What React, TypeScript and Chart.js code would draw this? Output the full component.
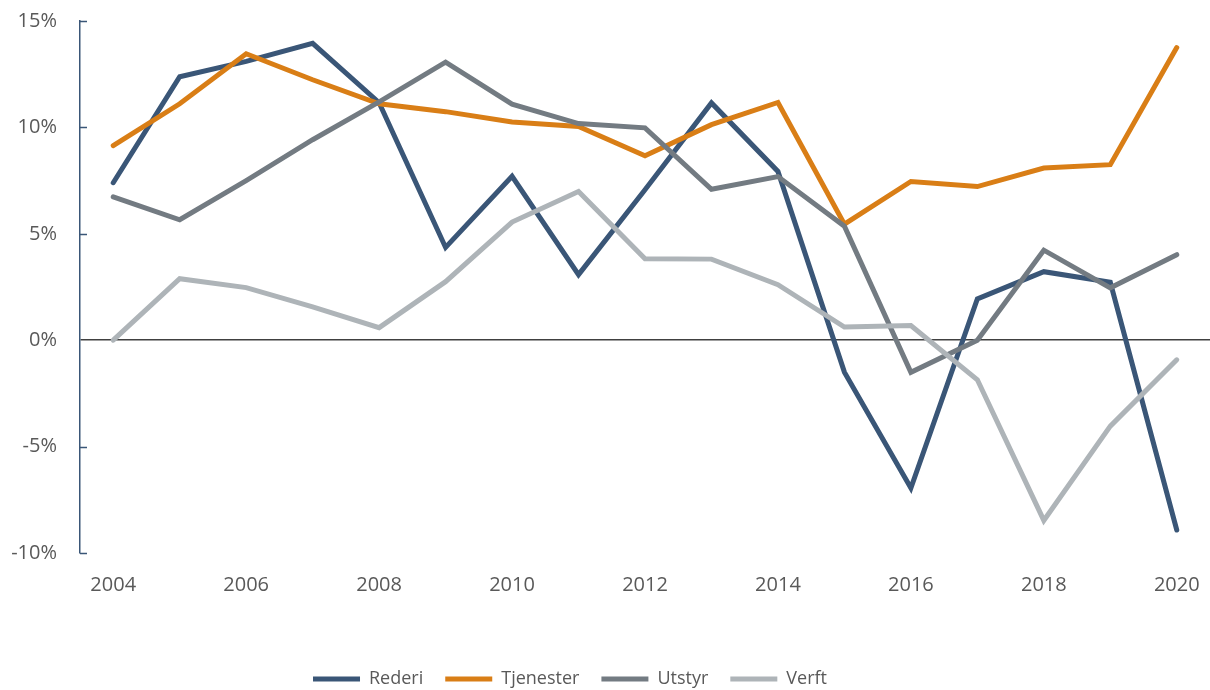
import { useEffect, useRef } from 'react';
import { Chart, registerables } from 'chart.js';

Chart.register(...registerables);

const years = ['2004', '2005', '2006', '2007', '2008', '2009', '2010', '2011', '2012', '2013', '2014', '2015', '2016', '2017', '2018', '2019', '2020'];
const rederi = [7.4, 12.38, 13.1, 13.95, 11.16, 4.36, 7.7, 3.08, 7.07, 11.15, 7.93, -1.5, -6.95, 1.94, 3.22, 2.72, -8.92];
const tjenester = [9.14, 11.11, 13.46, 12.24, 11.11, 10.74, 10.25, 10.04, 8.67, 10.13, 11.17, 5.45, 7.46, 7.22, 8.09, 8.25, 13.75];
const utstyr = [6.74, 5.66, 7.5, 9.42, 11.2, 13.07, 11.09, 10.18, 9.98, 7.09, 7.69, 5.36, -1.51, 0.0, 4.23, 2.46, 4.02];
const verft = [0.0, 2.89, 2.47, 1.57, 0.59, 2.75, 5.55, 6.99, 3.83, 3.81, 2.61, 0.62, 0.69, -1.86, -8.47, -4.04, -0.92];
const yTicks = [-10, -5, 0, 5, 10, 15];

const seriesNames = ['Rederi', 'Tjenester', 'Utstyr', 'Verft'];
const seriesColors = ['#3a5677', '#d97e16', '#737b82', '#aeb4b8'];
const seriesData = [rederi, tjenester, utstyr, verft];

export default function App() {
  const ref = useRef<HTMLCanvasElement>(null);

  useEffect(() => {
    document.body.style.margin = '0';
    if (!ref.current) return;

    const innerTicks = {
      id: 'innerTicks',
      afterLayout(chart: any) {
        if (chart.legend) {
          chart.legend.right -= 70;
        }
      },
      afterDraw(chart: any) {
        const { ctx, chartArea, scales } = chart;
        ctx.save();
        ctx.strokeStyle = '#3a5677';
        ctx.lineWidth = 1.5;
        yTicks.forEach((v) => {
          if (v === 0) return;
          const y = Math.round(scales.y.getPixelForValue(v)) + 0.5;
          ctx.beginPath();
          ctx.moveTo(chartArea.left, y);
          ctx.lineTo(chartArea.left + 7, y);
          ctx.stroke();
        });
        ctx.restore();
      },
    };

    const chart = new Chart(ref.current, {
      type: 'line',
      data: {
        labels: years,
        datasets: seriesNames.map((name, i) => ({
          label: name,
          data: seriesData[i],
          borderColor: seriesColors[i],
          backgroundColor: seriesColors[i],
          borderWidth: 5,
          borderCapStyle: 'round' as const,
          pointRadius: 0,
          tension: 0,
          fill: false,
          order: seriesNames.length - i,
        })),
      },
      options: {
        responsive: false,
        animation: false,
        layout: { padding: { top: 0, left: 0, right: 0, bottom: 0 } },
        plugins: {
          tooltip: { enabled: false },
          legend: {
            position: 'bottom',
            labels: {
              usePointStyle: true,
              pointStyle: 'line',
              pointStyleWidth: 47,
              padding: 22,
              color: '#595959',
              font: { family: 'Open Sans', size: 18 },
              sort: (a: any, b: any) => a.datasetIndex - b.datasetIndex,
            },
          },
        },
        scales: {
          x: {
            type: 'category',
            offset: true,
            grid: { display: false, drawTicks: false },
            border: { display: false },
            ticks: {
              autoSkip: false,
              maxRotation: 0,
              padding: 20,
              color: '#595959',
              font: { family: 'Open Sans', size: 20 },
              callback: (_v: any, i: number) => (i % 2 === 0 ? years[i] : ''),
            },
            afterFit: (s: any) => {
              s.height = 95;
              s.paddingLeft = 0;
              s.paddingRight = 0;
            },
          },
          y: {
            min: -10,
            max: 15,
            afterBuildTicks: (s: any) => {
              s.ticks = yTicks.map((v) => ({ value: v }));
            },
            grid: {
              drawTicks: false,
              lineWidth: 1.5,
              color: (c: any) => (c.tick && c.tick.value === 0 ? '#404040' : 'rgba(0,0,0,0)'),
            },
            border: { color: '#3a5677', width: 1.5 },
            ticks: {
              padding: 23,
              color: '#595959',
              font: { family: 'Open Sans', size: 20 },
              callback: (v: any) => `${v}%`,
            },
            afterFit: (s: any) => {
              s.width = 80;
              s.paddingTop = 21;
            },
          },
        },
      },
      plugins: [innerTicks],
    });

    return () => chart.destroy();
  }, []);

  return (
    <div style={{ width: 1210, height: 690, overflow: 'hidden' }}>
      <canvas ref={ref} width={1210} height={698} style={{ display: 'block' }} />
    </div>
  );
}
